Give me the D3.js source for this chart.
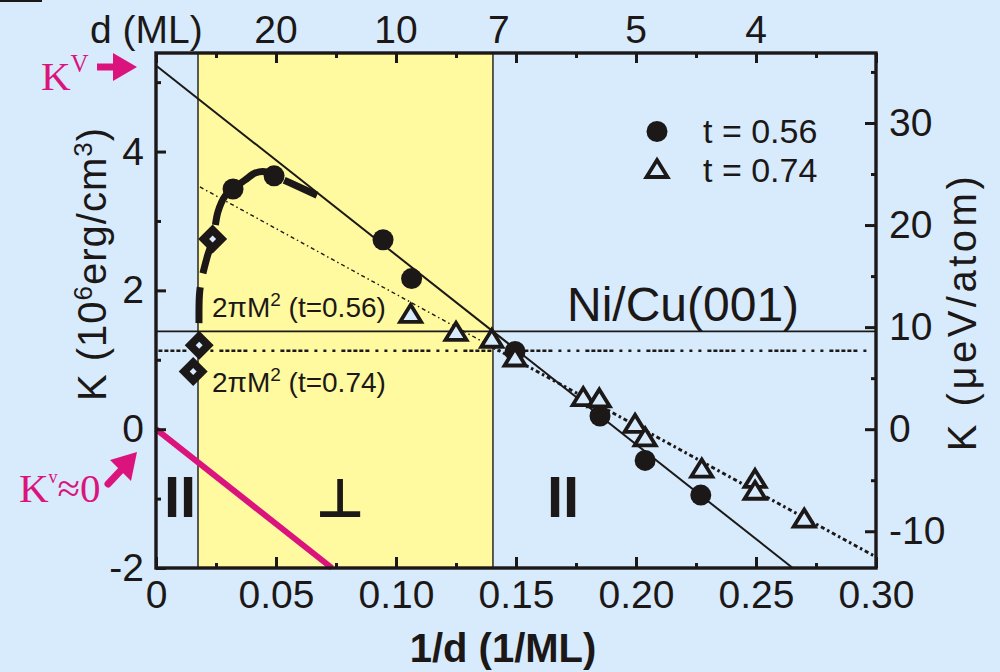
<!DOCTYPE html>
<html>
<head>
<meta charset="utf-8">
<script src="https://cdn.jsdelivr.net/npm/d3@7"></script>
<style>
  html, body { margin: 0; padding: 0; background: #d7ebfd; }
  svg { display: block; }
</style>
</head>
<body>
<svg id="chart" width="1000" height="672"></svg>
<script>
// ---- measured anisotropy K versus inverse thickness 1/d ----
const circleX   = [0.0321, 0.0492, 0.0946, 0.1065, 0.1496, 0.185, 0.2038, 0.227];          // t = 0.56
const circleK   = [3.46, 3.65, 2.73, 2.17, 1.12, 0.19, -0.45, -0.95];
const triangleX = [0.1061, 0.125, 0.1399, 0.1496, 0.178, 0.1847, 0.1996, 0.2038, 0.2274, 0.2496, 0.2496, 0.2701]; // t = 0.74
const triangleK = [1.67, 1.41, 1.31, 1.04, 0.47, 0.45, 0.085, -0.11, -0.56, -0.71, -0.88, -1.28];
const diamondX  = [0.0236, 0.018, 0.0155];
const diamondK  = [2.74, 1.21, 0.83];

// guide curve through the thick-film data
const guideX = [0.0179, 0.0179, 0.0183, 0.0213, 0.0238, 0.0258, 0.0288, 0.0321, 0.0371, 0.0413, 0.0454, 0.0492, 0.0558, 0.0671];
const guideK = [1.21, 1.53, 2.01, 2.48, 2.74, 3.13, 3.36, 3.46, 3.59, 3.69, 3.71, 3.65, 3.55, 3.37];

// linear fits K = Kv + 2Ks/d
const fit056X = [0, 0.2653],   fit056K = [5.24, -2.0];
const fit074X = [0.0183, 0.30], fit074K = [3.49, -1.84];
const kvZeroX = [0, 0.0733],   kvZeroK = [0, -2.0];

// shape anisotropy 2πM²
const shape056 = 1.41;
const shape074 = 1.13;

// perpendicular-magnetization window in 1/d
const perpRange = [0.0175, 0.1404];

// axis ticks
const xMajor = [0, 0.05, 0.10, 0.15, 0.20, 0.25, 0.30];
const xMinor = [0.025, 0.075, 0.125, 0.175, 0.225, 0.275];
const yMajor = [-2, 0, 2, 4];
const yMinor = [-1, 1, 3, 5];
const y2Major = [-10, 0, 10, 20, 30];
const y2Minor = [-5, 5, 15, 25, 35];
const dLabels = [20, 10, 7, 5, 4];

const legendLabels = ["t = 0.56", "t = 0.74"];

// ---- layout ----
const BLUE = "#d7ebfd", YELLOW = "#fffa9f", INK = "#1c1817", MAGENTA = "#da147c";
const FONT = "'Liberation Sans', Arial, sans-serif";
const SERIF = "'Liberation Serif', 'Times New Roman', serif";
const L = 156, R = 876, T = 53, B = 568;
const UEV_PER_UNIT = 6.8;

const svg = d3.select("#chart");
const x = d3.scaleLinear().domain([0, 0.30]).range([L, R]);
const y = d3.scaleLinear().domain([-2, 5.42]).range([B, T]);
const y2 = d3.scaleLinear().domain([-2 * UEV_PER_UNIT, 5.42 * UEV_PER_UNIT]).range([B, T]);

svg.append("rect").attr("width", 1000).attr("height", 672).attr("fill", BLUE);
svg.append("rect").attr("x", 0).attr("y", 0).attr("width", 42).attr("height", 2).attr("fill", INK);

// perpendicular region
svg.append("rect")
  .attr("x", x(perpRange[0])).attr("y", T)
  .attr("width", x(perpRange[1]) - x(perpRange[0])).attr("height", B - T)
  .attr("fill", YELLOW);
perpRange.forEach(v => {
  svg.append("line").attr("x1", x(v)).attr("x2", x(v)).attr("y1", T).attr("y2", B)
    .attr("stroke", INK).attr("stroke-width", 1.4);
});

const line = d3.line().x(d => x(d[0])).y(d => y(d[1]));
const zip = (a, b) => a.map((v, i) => [v, b[i]]);

// shape anisotropy levels
svg.append("path").attr("d", line([[0, shape056], [0.30, shape056]]))
  .attr("stroke", INK).attr("stroke-width", 1.8).attr("fill", "none");
svg.append("path").attr("d", line([[0.001, shape074], [0.2985, shape074]]))
  .attr("stroke", INK).attr("stroke-width", 2.4).attr("fill", "none")
  .attr("stroke-dasharray", "4,2,4,2,4,2,4,2,4,6,3,6,3,6,3,6");

// fits
svg.append("path").attr("d", line(zip(fit056X, fit056K)))
  .attr("stroke", INK).attr("stroke-width", 2).attr("fill", "none");
const split = 0.14;
const kAt = xv => fit074K[0] + (fit074K[1] - fit074K[0]) * (xv - fit074X[0]) / (fit074X[1] - fit074X[0]);
svg.append("path").attr("d", line([[fit074X[0], fit074K[0]], [split, kAt(split)]]))
  .attr("stroke", INK).attr("stroke-width", 1.4).attr("fill", "none")
  .attr("stroke-dasharray", "4,3,1.5,3");
svg.append("path").attr("d", line([[split, kAt(split)], [fit074X[1], fit074K[1]]]))
  .attr("stroke", INK).attr("stroke-width", 3).attr("fill", "none")
  .attr("stroke-dasharray", "4,3,2.5,3");

// Kv ≈ 0 line
svg.append("path").attr("d", line(zip(kvZeroX, kvZeroK)))
  .attr("stroke", MAGENTA).attr("stroke-width", 6).attr("fill", "none");

// guide curve
svg.append("path")
  .attr("d", d3.line().x(d => x(d[0])).y(d => y(d[1])).curve(d3.curveCatmullRom)(zip(guideX, guideK).reverse()))
  .attr("stroke", INK).attr("stroke-width", 7).attr("fill", "none")
  .attr("stroke-dasharray", "36,14");

// markers
svg.selectAll("circle.c56").data(zip(circleX, circleK)).join("circle")
  .attr("cx", d => x(d[0])).attr("cy", d => y(d[1])).attr("r", 10.5).attr("fill", INK);

const triPath = "M0,-8.5L10.5,8.5L-10.5,8.5Z";
svg.selectAll("path.t74").data(zip(triangleX, triangleK)).join("path")
  .attr("transform", d => `translate(${x(d[0])},${y(d[1])})`)
  .attr("d", triPath).attr("fill", BLUE).attr("stroke", INK).attr("stroke-width", 3.8)
  .attr("stroke-linejoin", "miter");

const dia = svg.selectAll("g.dia").data(zip(diamondX, diamondK)).join("g")
  .attr("transform", d => `translate(${x(d[0])},${y(d[1])})`);
dia.append("path").attr("d", "M0,-14.5L14.5,0L0,14.5L-14.5,0Z").attr("fill", INK);
dia.append("path").attr("d", "M0,-3.5L3.5,0L0,3.5L-3.5,0Z").attr("fill", BLUE);

// axes
function styleAxis(g) {
  g.select(".domain").remove();
  g.selectAll(".tick line").attr("stroke", INK).attr("stroke-width", 3);
  g.selectAll(".tick text").attr("fill", INK).style("font-family", FONT).style("font-size", "39px");
}
svg.append("g").attr("transform", `translate(0,${B})`)
  .call(d3.axisBottom(x).tickValues(xMajor).tickSize(-11).tickPadding(12)
    .tickFormat(d => d === 0 ? "0" : d3.format(".2f")(d))).call(styleAxis);
svg.append("g").attr("transform", `translate(0,${B})`)
  .call(d3.axisBottom(x).tickValues(xMinor).tickSize(-5).tickFormat("")).call(styleAxis);
svg.append("g").attr("transform", `translate(0,${T})`)
  .call(d3.axisTop(x).tickValues(xMajor).tickSize(-10).tickFormat("")).call(styleAxis);
svg.append("g").attr("transform", `translate(0,${T})`)
  .call(d3.axisTop(x).tickValues(xMinor).tickSize(-5).tickFormat("")).call(styleAxis);
svg.append("g").attr("transform", `translate(${L},0)`)
  .call(d3.axisLeft(y).tickValues(yMajor).tickSize(-10).tickPadding(12).tickFormat(d => String(d))).call(styleAxis);
svg.append("g").attr("transform", `translate(${L},0)`)
  .call(d3.axisLeft(y).tickValues(yMinor).tickSize(-5).tickFormat("")).call(styleAxis);
svg.append("g").attr("transform", `translate(${R},0)`)
  .call(d3.axisRight(y2).tickValues(y2Major).tickSize(-11).tickPadding(13).tickFormat(d => String(d))).call(styleAxis);
svg.append("g").attr("transform", `translate(${R},0)`)
  .call(d3.axisRight(y2).tickValues(y2Minor).tickSize(-5).tickFormat("")).call(styleAxis);

// top labels in thickness d
svg.selectAll("text.dlab").data(dLabels).join("text")
  .attr("x", d => x(1 / d)).attr("y", 43).attr("text-anchor", "middle")
  .style("font-family", FONT).style("font-size", "39px").attr("fill", INK).text(d => d);

// frame
svg.append("rect").attr("x", L).attr("y", T).attr("width", R - L).attr("height", B - T)
  .attr("fill", "none").attr("stroke", INK).attr("stroke-width", 3.4);

// titles
const txt = (xx, yy, s, size, opts = {}) => svg.append("text").attr("x", xx).attr("y", yy)
  .attr("fill", opts.fill || INK).attr("text-anchor", opts.anchor || "start")
  .style("font-family", opts.family || FONT).style("font-size", size + "px")
  .style("font-weight", opts.weight || "normal").text(s);

txt(90, 43, "d (ML)", 39);
txt(503, 662, "1/d (1/ML)", 40, { anchor: "middle", weight: "bold" });

const yt = svg.append("text").attr("transform", "translate(106,264) rotate(-90)")
  .attr("text-anchor", "middle").attr("fill", INK)
  .style("font-family", FONT).style("font-size", "40px").style("letter-spacing", "1px");
yt.append("tspan").text("K (10");
yt.append("tspan").attr("dy", -14).style("font-size", "26px").text("6");
yt.append("tspan").attr("dy", 14).text("erg/cm");
yt.append("tspan").attr("dy", -14).style("font-size", "26px").text("3");
yt.append("tspan").attr("dy", 14).text(")");

svg.append("text").attr("transform", "translate(976,312) rotate(-90)")
  .attr("text-anchor", "middle").attr("fill", INK)
  .style("font-family", FONT).style("font-size", "40px").style("letter-spacing", "3.5px")
  .text("K (\u03bceV/atom)");

// legend
svg.append("circle").attr("cx", 657).attr("cy", 131.5).attr("r", 10.5).attr("fill", INK);
svg.append("path").attr("transform", "translate(657,168.5)").attr("d", triPath)
  .attr("fill", BLUE).attr("stroke", INK).attr("stroke-width", 3.8);
txt(703, 143, legendLabels[0], 34);
txt(703, 182, legendLabels[1], 34);

txt(567, 321, "Ni/Cu(001)", 48);

function shapeLabel(yy, t) {
  const s = svg.append("text").attr("x", 212).attr("y", yy).attr("fill", INK)
    .style("font-family", FONT).style("font-size", "28px");
  s.append("tspan").text("2\u03c0M");
  s.append("tspan").attr("dy", -11).style("font-size", "19px").text("2");
  s.append("tspan").attr("dy", 11).text(" (t=" + t + ")");
}
shapeLabel(317, "0.56");
shapeLabel(392, "0.74");

// magnetization direction labels
txt(180, 517, "II", 58, { anchor: "middle", weight: "bold" });
txt(563, 517, "II", 58, { anchor: "middle", weight: "bold" });
txt(340, 517, "\u22a5", 54, { anchor: "middle", weight: "bold", family: "'DejaVu Sans', sans-serif" });

// volume anisotropy annotations
const kv = svg.append("text").attr("x", 41).attr("y", 90).attr("fill", MAGENTA)
  .style("font-family", SERIF).style("font-size", "41px");
kv.append("tspan").text("K");
kv.append("tspan").attr("dy", -18).style("font-size", "25px").text("V");
svg.append("rect").attr("x", 97).attr("y", 63.5).attr("width", 19).attr("height", 7).attr("fill", MAGENTA);
svg.append("path").attr("d", "M113,53L137,67L113,81Z").attr("fill", MAGENTA);

const kv0 = svg.append("text").attr("x", 19).attr("y", 502).attr("fill", MAGENTA)
  .style("font-family", SERIF).style("font-size", "41px");
kv0.append("tspan").text("K");
kv0.append("tspan").attr("dy", -19).style("font-size", "18px").text("v");
kv0.append("tspan").attr("dy", 19).text("\u22480");
svg.append("line").attr("x1", 108).attr("y1", 484).attr("x2", 124).attr("y2", 467)
  .attr("stroke", MAGENTA).attr("stroke-width", 7).attr("stroke-linecap", "round");
svg.append("path").attr("d", "M137,452L131,481L110,460Z").attr("fill", MAGENTA);
</script>
</body>
</html>
